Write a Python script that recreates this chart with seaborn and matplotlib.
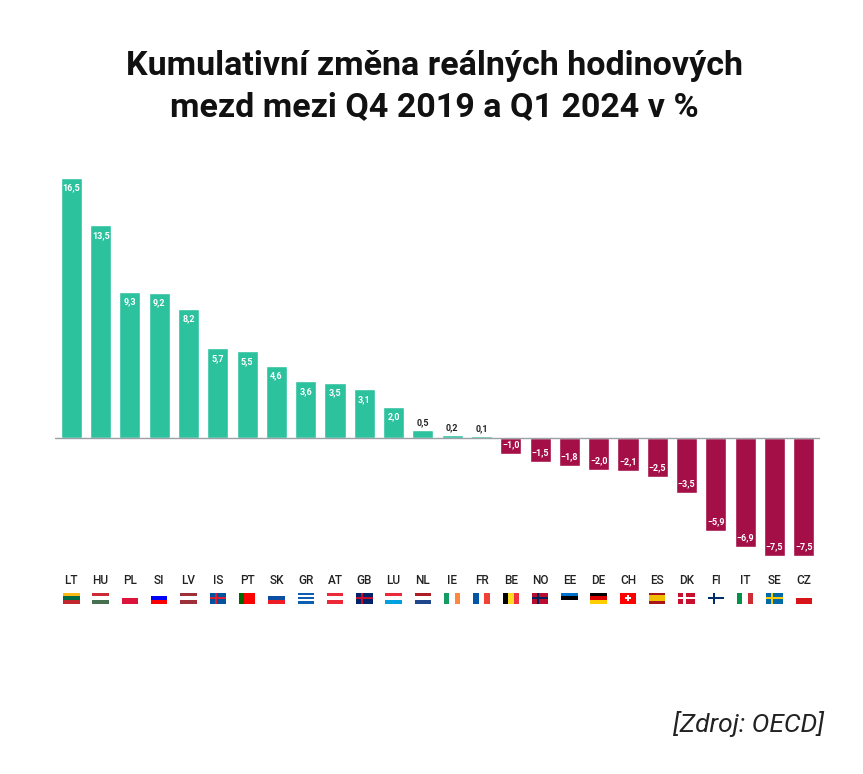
import matplotlib
matplotlib.use("Agg")
import matplotlib.pyplot as plt
import matplotlib.transforms as mtransforms
from matplotlib.patches import Rectangle
import seaborn as sns
import pandas as pd

# data
countries = ["LT", "HU", "PL", "SI", "LV", "IS", "PT", "SK", "GR", "AT", "GB", "LU", "NL",
             "IE", "FR", "BE", "NO", "EE", "DE", "CH", "ES", "DK", "FI", "IT", "SE", "CZ"]
values = [16.5, 13.5, 9.3, 9.2, 8.2, 5.7, 5.5, 4.6, 3.6, 3.5, 3.1, 2.0, 0.5,
          0.2, 0.1, -1.0, -1.5, -1.8, -2.0, -2.1, -2.5, -3.5, -5.9, -6.9, -7.5, -7.5]

# simplified flags: (orientation, stripe colours) or ("cross", bg, cross)
flags = {
    "LT": ("h", ["#FDB913", "#006A44", "#C1272D"]), "HU": ("h", ["#CE2939", "#FFFFFF", "#477050"]),
    "PL": ("h", ["#FFFFFF", "#DC143C"]), "SI": ("h", ["#FFFFFF", "#0000FF", "#FF0000"]),
    "LV": ("h", ["#9E3039", "#FFFFFF", "#9E3039"]), "IS": ("cross", "#02529C", "#DC1E35"),
    "PT": ("v", ["#006600", "#FF0000", "#FF0000"]), "SK": ("h", ["#FFFFFF", "#0B4EA2", "#EE1C25"]),
    "GR": ("h", ["#0D5EAF", "#FFFFFF", "#0D5EAF", "#FFFFFF", "#0D5EAF"]),
    "AT": ("h", ["#ED2939", "#FFFFFF", "#ED2939"]), "GB": ("cross", "#012169", "#C8102E"),
    "LU": ("h", ["#ED2939", "#FFFFFF", "#00A1DE"]), "NL": ("h", ["#AE1C28", "#FFFFFF", "#21468B"]),
    "IE": ("v", ["#169B62", "#FFFFFF", "#FF883E"]), "FR": ("v", ["#0055A4", "#FFFFFF", "#EF4135"]),
    "BE": ("v", ["#000000", "#FDDA24", "#EF3340"]), "NO": ("cross", "#BA0C2F", "#00205B"),
    "EE": ("h", ["#0072CE", "#000000", "#FFFFFF"]), "DE": ("h", ["#000000", "#DD0000", "#FFCE00"]),
    "CH": ("plus", "#FF0000", "#FFFFFF"), "ES": ("h", ["#AA151B", "#F1BF00", "#F1BF00", "#AA151B"]),
    "DK": ("cross", "#C8102E", "#FFFFFF"), "FI": ("cross", "#FFFFFF", "#002F6C"),
    "IT": ("v", ["#009246", "#FFFFFF", "#CE2B37"]), "SE": ("cross", "#006AA7", "#FECC02"),
    "CZ": ("h", ["#FFFFFF", "#D7141A"]),
}

df = pd.DataFrame({"country": countries, "value": values})
pos_color = "#2DC29E"
neg_color = "#A50F48"
palette = [pos_color if v >= 0 else neg_color for v in values]

sns.set_theme(style="white")
plt.rcParams["font.family"] = ["Roboto", "DejaVu Sans"]

fig = plt.figure(figsize=(8.63, 7.74), dpi=100)
ax = fig.add_axes([0.064, 0.270, 0.886, 0.510])
sns.barplot(data=df, x="country", y="value", hue="country", palette=palette,
            legend=False, width=0.72, saturation=1, ax=ax)
ax.set_ylim(-8.06, 17.0)
ax.set_xlim(-0.55, len(countries) - 0.45)
ax.axhline(0, color="#9aa0a6", lw=1)
for s in ax.spines.values():
    s.set_visible(False)
ax.set_xticks([])
ax.set_yticks([])
ax.set_xlabel("")
ax.set_ylabel("")

for i, v in enumerate(values):
    lab = f"{v:.1f}".replace(".", ",").replace("-", "\u2212")
    if v >= 1:
        ax.text(i, v - 0.35, lab, ha="center", va="top", color="white", fontsize=6.5, fontweight="bold")
    elif v >= 0:
        ax.text(i, v + 0.2, lab, ha="center", va="bottom", color="#222222", fontsize=6.5, fontweight="bold")
    else:
        ax.text(i, v + 0.3, lab, ha="center", va="bottom", color="white", fontsize=6.5, fontweight="bold")

trans = mtransforms.blended_transform_factory(ax.transData, ax.transAxes)
fw, fh, fy = 0.56, 0.028, -0.098
for i, c in enumerate(countries):
    ax.text(i, -0.038, c, transform=trans, ha="center", va="center", fontsize=8.5,
            color="#222222", fontweight="medium")
    kind = flags[c]
    x0 = i - fw / 2
    if kind[0] == "h":
        n = len(kind[1])
        for k, col in enumerate(kind[1]):
            ax.add_patch(Rectangle((x0, fy + fh * (n - 1 - k) / n), fw, fh / n, facecolor=col,
                                   transform=trans, clip_on=False, lw=0))
    elif kind[0] == "v":
        n = len(kind[1])
        for k, col in enumerate(kind[1]):
            ax.add_patch(Rectangle((x0 + fw * k / n, fy), fw / n, fh, facecolor=col,
                                   transform=trans, clip_on=False, lw=0))
    else:
        ax.add_patch(Rectangle((x0, fy), fw, fh, facecolor=kind[1], transform=trans, clip_on=False, lw=0))
        if kind[0] == "cross":
            ax.add_patch(Rectangle((x0 + fw * 0.3, fy), fw * 0.14, fh, facecolor=kind[2],
                                   transform=trans, clip_on=False, lw=0))
            ax.add_patch(Rectangle((x0, fy + fh * 0.4), fw, fh * 0.2, facecolor=kind[2],
                                   transform=trans, clip_on=False, lw=0))
        else:
            ax.add_patch(Rectangle((x0 + fw * 0.43, fy + fh * 0.2), fw * 0.14, fh * 0.6, facecolor=kind[2],
                                   transform=trans, clip_on=False, lw=0))
            ax.add_patch(Rectangle((x0 + fw * 0.3, fy + fh * 0.4), fw * 0.4, fh * 0.2, facecolor=kind[2],
                                   transform=trans, clip_on=False, lw=0))

fig.text(0.503, 0.888, "Kumulativní změna reálných hodinových\nmezd mezi Q4 2019 a Q1 2024 v %",
         ha="center", va="center", fontsize=24.5, fontweight="bold", color="#111111", linespacing=1.35)
fig.text(0.955, 0.065, "[Zdroj: OECD]", ha="right", va="center", fontsize=19,
         style="italic", color="#222222")

fig.savefig("out.png", dpi=100, facecolor="white")
